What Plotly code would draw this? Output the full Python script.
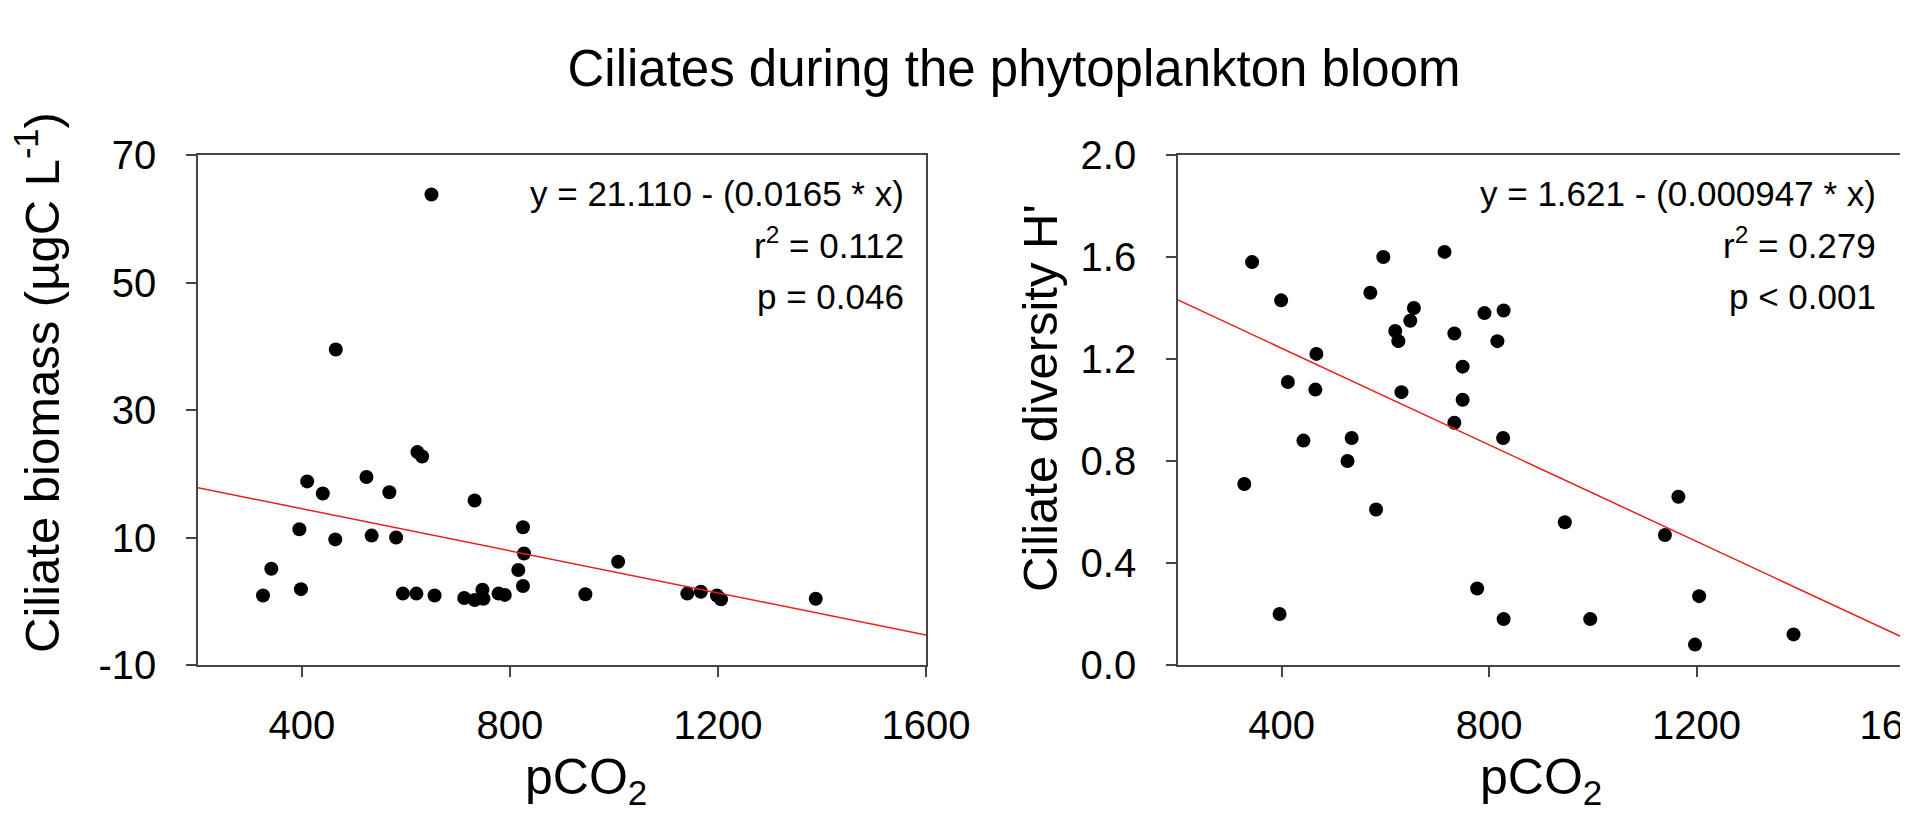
import plotly.graph_objects as go
from plotly.subplots import make_subplots

# pCO2 and ciliate biomass (left panel)
biomass_pco2 = [649, 465, 622, 631, 410, 524, 440, 568, 732, 395, 825, 464, 534, 581,
                827, 341, 1008, 816, 825, 325, 398, 594, 620, 655, 712, 732, 747, 749,
                778, 790, 945, 1141, 1167, 1198, 1206, 1388]
biomass = [63.8, 39.5, 23.4, 22.7, 18.8, 19.5, 16.9, 17.1, 15.8, 11.3, 11.6, 9.7, 10.3, 10.0,
           7.5, 5.1, 6.2, 4.9, 2.4, 0.9, 1.9, 1.2, 1.2, 0.9, 0.5, 0.2, 1.8, 0.4,
           1.2, 1.0, 1.1, 1.2, 1.5, 0.9, 0.3, 0.4]

# pCO2 and ciliate diversity (right panel)
diversity_pco2 = [343, 399, 412, 467, 465, 442, 535, 527, 328, 396, 596, 571, 655, 648,
                  619, 625, 631, 582, 714, 733, 749, 749, 733, 791, 828, 816, 827, 777,
                  828, 946, 995, 1139, 1165, 1205, 1197, 1387]
diversity = [1.58, 1.43, 1.11, 1.22, 1.08, 0.88, 0.89, 0.80, 0.71, 0.20, 1.60, 1.46, 1.40, 1.35,
             1.31, 1.27, 1.07, 0.61, 1.62, 1.30, 1.17, 1.04, 0.95, 1.38, 1.39, 1.27, 0.89, 0.30,
             0.18, 0.56, 0.18, 0.51, 0.66, 0.27, 0.08, 0.12]

# regression fits (intercept, slope) as printed on the figure
biomass_fit = (21.110, -0.0165)
diversity_fit = (1.621, -0.000947)
fit_x = [200, 1600]

# tick labels
pco2_ticks = [400, 800, 1200, 1600]
biomass_ticks = [-10, 10, 30, 50, 70]
biomass_labels = ["-10", "10", "30", "50", "70"]
diversity_ticks = [0, 0.4, 0.8, 1.2, 1.6, 2.0]
diversity_labels = ["0.0", "0.4", "0.8", "1.2", "1.6", "2.0"]

biomass_stats = ["y = 21.110 - (0.0165 * x)", "r<sup>2</sup> = 0.112", "p = 0.046"]
diversity_stats = ["y = 1.621 - (0.000947 * x)", "r<sup>2</sup> = 0.279", "p < 0.001"]

FONT = "Arial, Liberation Sans, sans-serif"
W, H = 1908, 813
L, R, T, B = 190, 12, 147, 156

fig = make_subplots(rows=1, cols=2)

panels = [
    (biomass_pco2, biomass, biomass_fit, 1),
    (diversity_pco2, diversity, diversity_fit, 2),
]
for xs, ys, (b0, b1), col in panels:
    fig.add_trace(go.Scatter(x=xs, y=ys, mode="markers",
                             marker=dict(size=14, color="black"),
                             showlegend=False), row=1, col=col)
    fig.add_trace(go.Scatter(x=fit_x, y=[b0 + b1 * v for v in fit_x], mode="lines",
                             line=dict(color="#e8201c", width=1.5),
                             showlegend=False), row=1, col=col)

axis_style = dict(showline=True, linecolor="#444", linewidth=1.5, mirror=True,
                  ticks="outside", ticklen=10, tickcolor="#444", tickwidth=1.5,
                  showgrid=False, zeroline=False, automargin=False,
                  tickfont=dict(family=FONT, size=40, color="black"))

fig.update_xaxes(axis_style, range=[200, 1600], tickvals=pco2_ticks,
                 ticklabelstandoff=14, ticklabeloverflow="allow")
fig.update_xaxes(domain=[0.0, 0.4267], row=1, col=1)
fig.update_xaxes(domain=[0.5744, 1.0], row=1, col=2)

fig.update_yaxes(axis_style, domain=[0.0, 1.0], ticklabelstandoff=22)
fig.update_yaxes(range=[-10, 70], tickvals=biomass_ticks, ticktext=biomass_labels, row=1, col=1)
fig.update_yaxes(range=[0, 2.0], tickvals=diversity_ticks, ticktext=diversity_labels, row=1, col=2)


def px_x(px):
    # figure pixel -> paper x
    return (px - L) / (W - L - R)


def px_y(py):
    # figure pixel (from top) -> paper y
    return (H - B - py) / (H - T - B)


title_font = dict(family=FONT, size=49, color="black")
# axis titles
fig.add_annotation(text="Ciliate biomass (µgC L<sup>-1</sup>)", textangle=-90,
                   x=px_x(30), y=px_y(375), xref="paper", yref="paper",
                   xanchor="center", yanchor="middle", showarrow=False, font=title_font)
fig.add_annotation(text="Ciliate diversity H'", textangle=-90,
                   x=px_x(1032), y=px_y(390), xref="paper", yref="paper",
                   xanchor="center", yanchor="middle", showarrow=False, font=title_font)
for cx in (578, 1533):
    fig.add_annotation(text="pCO<sub>2</sub>", x=px_x(cx), y=px_y(772),
                       xref="paper", yref="paper", xanchor="center", yanchor="middle",
                       showarrow=False, font=dict(family=FONT, size=50, color="black"))

# regression statistics, right-aligned in each panel
line_pos = [0.925, 0.827, 0.7235]
for stats, xref, yref, xpos in [(biomass_stats, "x domain", "y domain", 0.9725),
                                (diversity_stats, "x2 domain", "y2 domain", 0.964)]:
    for txt, ypos in zip(stats, line_pos):
        fig.add_annotation(text=txt, xref=xref, yref=yref, x=xpos, y=ypos,
                           xanchor="right", yanchor="middle", showarrow=False,
                           font=dict(family=FONT, size=35, color="black"))

fig.update_layout(
    title=dict(text="Ciliates during the phytoplankton bloom", x=1006 / W, xref="container",
               xanchor="center", y=1 - 60 / H, yref="container", yanchor="middle",
               font=dict(family=FONT, size=51, color="black")),
    width=W, height=H,
    margin=dict(l=L, r=R, t=T, b=B),
    plot_bgcolor="white", paper_bgcolor="white",
)

fig.write_html("out.html")
